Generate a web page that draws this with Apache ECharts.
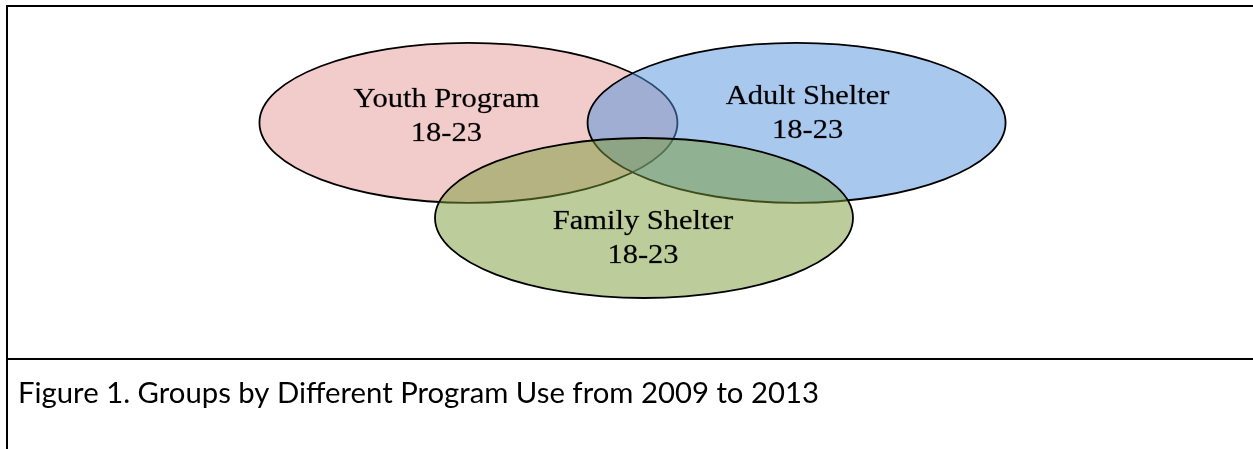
<!DOCTYPE html>
<html>
<head>
<meta charset="utf-8">
<title>Figure 1</title>
<script src="https://cdn.jsdelivr.net/npm/echarts@6/dist/echarts.min.js"></script>
<style>
    html, body { margin: 0; padding: 0; background: #fff; }
    #chart { width: 1253px; height: 449px; }
</style>
</head>
<body>
<div id="chart"></div>
<script>
// sets of the diagram
var setNames = ['Youth Program', 'Adult Shelter', 'Family Shelter'];
var setAges = ['18-23', '18-23', '18-23'];
// centre of each set (units = one radius)
var setX = [-0.84, 0.73, 0];
var setY = [1.19, 1.19, 0];
var caption = 'Figure 1. Groups by Different Program Use from 2009 to 2013';

var fillColors = ['rgba(229,151,151,0.5)', 'rgba(81,145,221,0.5)', 'rgba(121,155,55,0.5)'];
// label shift from the centre, px
var labelShift = [[-22, -6], [11, -9], [-1, 21]];

var chart = echarts.init(document.getElementById('chart'));

var seriesData = setNames.map(function (name, i) {
    return [setX[i], setY[i], i];
});

function renderSet(params, api) {
    var i = api.value(2);
    var c = api.coord([api.value(0), api.value(1)]);
    var r = api.size([1, 1]);
    return {
        type: 'group',
        children: [{
            type: 'ellipse',
            shape: { cx: c[0], cy: c[1], rx: r[0], ry: r[1] },
            style: { fill: fillColors[i], stroke: '#000', lineWidth: 1.8 }
        }, {
            type: 'text',
            x: c[0] + labelShift[i][0],
            y: c[1] + labelShift[i][1],
            scaleX: 1.13,
            z2: 10,
            style: {
                text: setNames[i] + '\n' + setAges[i],
                fontFamily: '"Liberation Serif", "Times New Roman", serif',
                fontSize: 27,
                lineHeight: 34,
                fill: '#000',
                stroke: 'rgba(0,0,0,0.5)',
                lineWidth: 0.4,
                align: 'center',
                verticalAlign: 'middle'
            }
        }]
    };
}

var option = {
    animation: false,
    grid: { left: 226, top: 58, width: 836, height: 320 },
    xAxis: { type: 'value', min: -2, max: 2, show: false },
    yAxis: { type: 'value', min: -2, max: 2, show: false },
    graphic: [
        { type: 'line', shape: { x1: 7, y1: 6, x2: 1253, y2: 6 }, style: { stroke: '#000', lineWidth: 2 } },
        { type: 'line', shape: { x1: 7, y1: 5, x2: 7, y2: 449 }, style: { stroke: '#000', lineWidth: 2 } },
        { type: 'line', shape: { x1: 7, y1: 359, x2: 1253, y2: 359 }, style: { stroke: '#000', lineWidth: 2 } },
        {
            type: 'text',
            left: 18,
            top: 379,
            style: {
                text: caption,
                fontFamily: 'Lato, "Open Sans", sans-serif',
                fontSize: 29.3,
                fill: '#000'
            }
        }
    ],
    series: [{
        type: 'custom',
        renderItem: renderSet,
        data: seriesData,
        silent: true
    }]
};

chart.setOption(option);
</script>
</body>
</html>
